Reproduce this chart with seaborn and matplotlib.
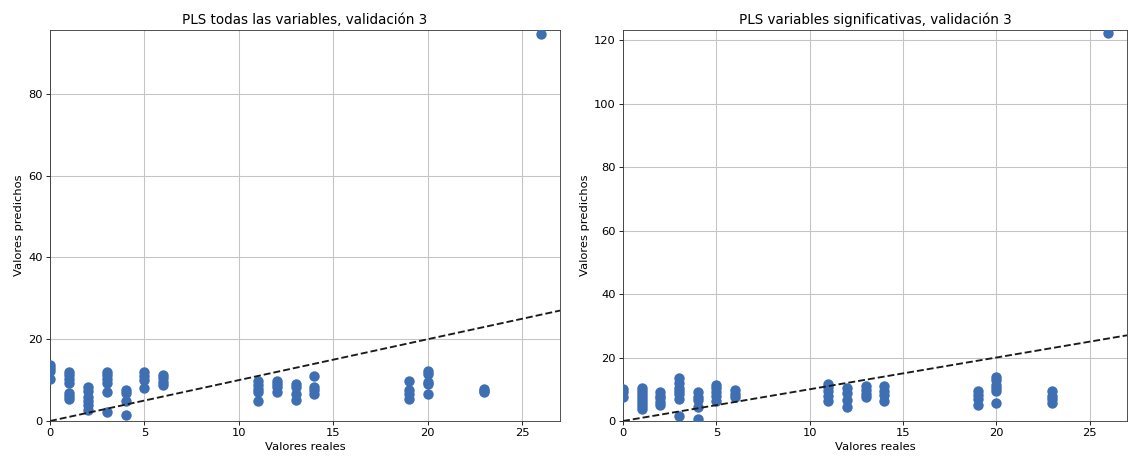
import matplotlib
matplotlib.use("Agg")
import matplotlib.pyplot as plt
import seaborn as sns
import pandas as pd

# Observed (real) values and the predictions obtained for each one
reales = [0, 1, 2, 3, 4, 5, 6, 11, 12, 13, 14, 19, 20, 23, 26]

pred_todas = [
    [13.8, 13.0, 12.3, 10.2],
    [12.0, 11.2, 10.3, 9.4, 6.8, 6.0, 5.3],
    [8.2, 7.4, 5.8, 4.8, 3.8, 2.8],
    [12.1, 11.3, 10.3, 9.4, 7.2, 2.3],
    [7.6, 6.9, 4.9, 1.5],
    [11.9, 11.0, 10.0, 8.0],
    [11.3, 10.5, 9.6, 8.9],
    [9.8, 8.8, 7.8, 7.2, 4.8],
    [9.9, 9.0, 8.2, 7.2],
    [9.0, 8.3, 6.7, 5.2],
    [10.9, 8.4, 7.5, 6.5],
    [9.7, 7.7, 6.7, 5.5],
    [12.3, 11.5, 9.5, 9.1, 6.5],
    [7.9, 7.4, 7.0],
    [94.6],
]

pred_signif = [
    [10.0, 9.0, 7.7],
    [10.3, 9.5, 8.5, 7.6, 6.6, 5.6, 4.6, 3.8],
    [9.0, 8.0, 7.2, 6.0, 4.9],
    [13.6, 12.0, 10.5, 9.5, 8.5, 7.0, 1.6],
    [9.0, 7.5, 6.5, 4.5, 0.6],
    [11.3, 10.3, 9.0, 7.8, 6.2],
    [9.8, 8.6, 7.5],
    [11.8, 10.8, 9.5, 8.0, 6.3],
    [10.3, 8.7, 6.6, 4.5],
    [11.0, 9.8, 8.5, 7.7],
    [11.0, 9.5, 8.2, 6.3],
    [9.3, 8.2, 6.8, 5.0],
    [14.0, 12.8, 11.5, 10.3, 9.3, 5.6],
    [9.3, 8.0, 6.8, 5.8],
    [122.2],
]

titulos = ["PLS todas las variables, validación 3",
           "PLS variables significativas, validación 3"]


def a_tabla(preds):
    filas = [(r, p) for r, grupo in zip(reales, preds) for p in grupo]
    return pd.DataFrame(filas, columns=["real", "predicho"])


DPI = 75
fig = plt.figure(figsize=(1129 / DPI, 462 / DPI), dpi=DPI)
ax1 = fig.add_axes([50 / 1129, 41 / 462, 510 / 1129, 391 / 462])
ax2 = fig.add_axes([623 / 1129, 41 / 462, 504 / 1129, 391 / 462])

azul = "#3F6FB3"
for ax, preds, titulo in zip([ax1, ax2], [pred_todas, pred_signif], titulos):
    df = a_tabla(preds)
    sns.scatterplot(data=df, x="real", y="predicho", ax=ax, color=azul,
                    s=100, linewidth=0, zorder=3)
    tope = df["predicho"].max() + 1
    xmax = df["real"].max() + 1
    ax.plot([0, xmax], [0, xmax], "--", color="#1a1a1a", linewidth=1.8, zorder=4)
    ax.set_xlim(0, xmax)
    ax.set_ylim(0, tope)
    ax.grid(True, color="#c4c4c4", linewidth=1.0, zorder=0)
    ax.set_axisbelow(True)
    ax.set_title(titulo, fontsize=13)
    ax.set_xlabel("Valores reales", fontsize=11)
    ax.set_ylabel("Valores predichos", fontsize=11)
    ax.tick_params(labelsize=11)
    for sp in ax.spines.values():
        sp.set_color("#333333")

fig.savefig("out.png", dpi=DPI)
